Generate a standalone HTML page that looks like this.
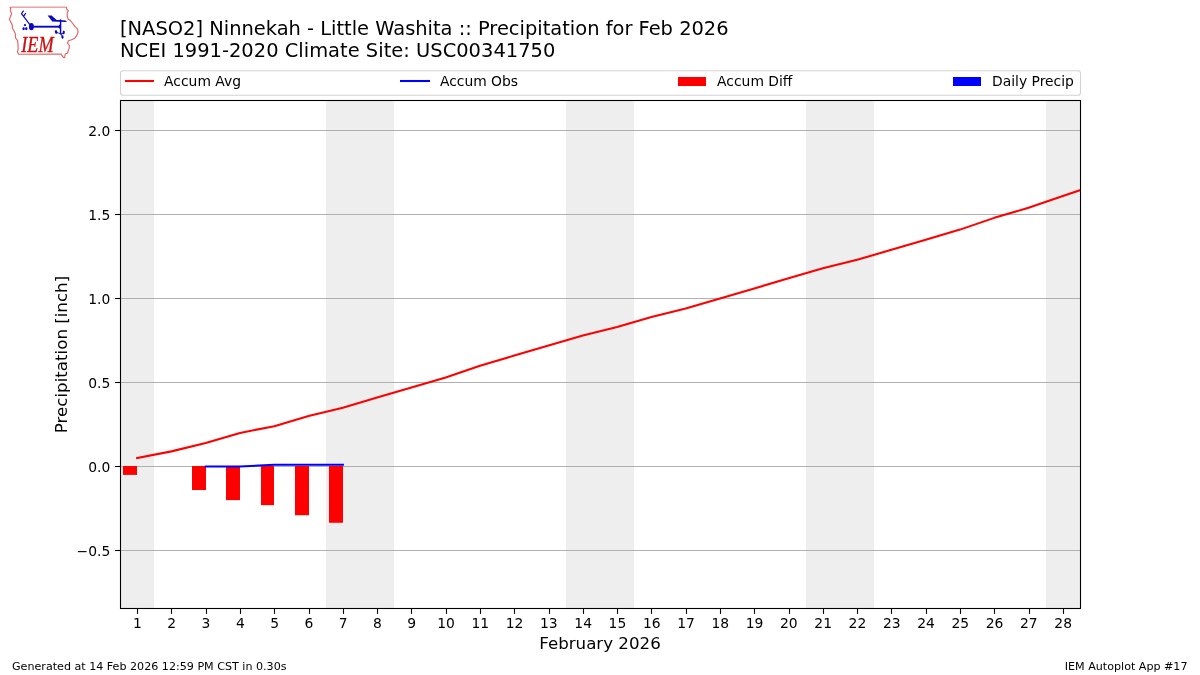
<!DOCTYPE html>
<html lang="en"><head><meta charset="utf-8"><title>IEM Autoplot App #17</title>
<style>html,body{margin:0;padding:0;background:#fff}body{width:1200px;height:675px;overflow:hidden}svg{display:block}text{font-family:'DejaVu Sans','Liberation Sans',sans-serif;fill:#000}</style></head><body>
<svg width="1200" height="675" viewBox="0 0 1200 675">
<rect width="1200" height="675" fill="#fff"/>
<g id="logo">
<path d="M10.1,7.4 L66.5,7.4 L66.7,9.2 L68.4,10.6 L67.2,13 L67.2,16.3 L68.2,19.2 L70.5,20.6 L72.4,23 L74.8,26.3 L77.6,29.1 L78.1,32.3 L76.7,35.6 L74.8,38.2 L71.5,39.8 L68.4,40.8 L67.5,43.2 L69.4,45.5 L69.1,48.4 L68.2,50.7 L67.5,53.1 L65.3,54.1 L64.6,57.6 L63.4,57.4 L61.1,54.1 L18.7,54.2 L17.5,51.7 L18.2,48.9 L18,44.6 L17.5,40.3 L15.6,38 L15.3,33.7 L14.2,31.3 L12.3,28 L12.3,25.3 L10.8,22 L9.4,19.2 L10.6,16.3 L11.6,13.5 L10.4,11.1 L10.8,9.2 Z" fill="#fff" stroke="#dc5050" stroke-opacity="0.88" stroke-width="1.15" stroke-linejoin="round"/>
<line x1="10.9" y1="7.3" x2="66" y2="7.3" stroke="#efa5a5" stroke-width="1.3"/>
<g fill="#0808c8" stroke="none">
<ellipse cx="31.4" cy="26.7" rx="2.45" ry="3.6"/>
<rect x="31.4" y="25.75" width="29.2" height="1.9"/>
<rect x="59.9" y="19.4" width="1.4" height="15"/>
<polygon points="57.8,26.7 60,24.3 60,29.1"/>
<polygon points="52.1,20.1 59.5,20 65.6,20.6 67,21.5 65.4,21.9 52.1,21.6"/>
<polygon points="47.6,15.6 51.6,15.4 56.6,19.9 52.1,21.3"/>
<circle cx="25" cy="25.1" r="1.12"/><ellipse cx="23.6" cy="28.7" rx="1.2" ry="1.45"/><ellipse cx="26.3" cy="28.7" rx="1.2" ry="1.45"/>
<ellipse cx="56.1" cy="32" rx="1.25" ry="1.9" transform="rotate(-15 56.1 32)"/><ellipse cx="63.7" cy="32.5" rx="1.05" ry="1.9" transform="rotate(10 63.7 32.5)"/><ellipse cx="62.5" cy="37" rx="1.1" ry="1.7" transform="rotate(-10 62.5 37)"/>
</g>
<g stroke="#0808c8" fill="none" stroke-width="1.15">
<path d="M31.4,26.7 L21.5,13.7 L23.6,10.6 M23.6,16.4 L25.8,13.2"/>
<path d="M56.1,32.2 Q58.5,33 60.6,33.8 Q62,34.2 63.4,33.2 M60.6,33 L62.4,36.6" stroke-width="0.9"/>
</g>
<text x="21.3" y="51.7" font-size="22.4" textLength="32.4" lengthAdjust="spacingAndGlyphs" style="font-family:'Liberation Serif','DejaVu Serif',serif;font-style:italic;fill:#cc1010;stroke:#cc1010;stroke-width:0.35px">IEM</text>
</g>

<text x="120" y="35" font-size="19.44">[NASO2] Ninnekah - Little Washita :: Precipitation for Feb 2026</text>
<text x="120" y="57" font-size="19.44" letter-spacing="0.02">NCEI 1991-2020 Climate Site: USC00341750</text>
<defs><clipPath id="ax"><rect x="120.50" y="100.50" width="960.00" height="508.00"/></clipPath></defs>
<g clip-path="url(#ax)">
<rect x="120.00" y="100.50" width="34.00" height="508.00" fill="#eeeeee"/>
<rect x="326.00" y="100.50" width="68.00" height="508.00" fill="#eeeeee"/>
<rect x="566.00" y="100.50" width="68.00" height="508.00" fill="#eeeeee"/>
<rect x="806.00" y="100.50" width="68.00" height="508.00" fill="#eeeeee"/>
<rect x="1046.00" y="100.50" width="34.00" height="508.00" fill="#eeeeee"/>
<line x1="120.5" x2="1080.5" y1="130.5" y2="130.5" stroke="#b0b0b0" stroke-width="1.1"/>
<line x1="120.5" x2="1080.5" y1="214.5" y2="214.5" stroke="#b0b0b0" stroke-width="1.1"/>
<line x1="120.5" x2="1080.5" y1="298.5" y2="298.5" stroke="#b0b0b0" stroke-width="1.1"/>
<line x1="120.5" x2="1080.5" y1="382.5" y2="382.5" stroke="#b0b0b0" stroke-width="1.1"/>
<line x1="120.5" x2="1080.5" y1="466.5" y2="466.5" stroke="#b0b0b0" stroke-width="1.1"/>
<line x1="120.5" x2="1080.5" y1="550.5" y2="550.5" stroke="#b0b0b0" stroke-width="1.1"/>
<rect x="123.00" y="466.00" width="14.00" height="8.90" fill="#ff0000"/>
<rect x="192.00" y="466.00" width="14.00" height="24.02" fill="#ff0000"/>
<rect x="226.00" y="466.00" width="14.00" height="34.10" fill="#ff0000"/>
<rect x="261.00" y="466.00" width="13.00" height="39.14" fill="#ff0000"/>
<rect x="295.00" y="466.00" width="14.00" height="49.22" fill="#ff0000"/>
<rect x="329.00" y="466.00" width="14.00" height="56.78" fill="#ff0000"/>
<polyline points="137.14,458.10 171.43,451.38 205.71,442.98 240.00,432.90 274.29,426.18 308.57,416.10 342.86,407.70 377.14,397.62 411.43,387.54 445.71,377.46 480.00,365.70 514.29,355.62 548.57,345.54 582.86,335.46 617.14,327.06 651.43,316.98 685.71,308.58 720.00,298.50 754.29,288.42 788.57,278.34 822.86,268.26 857.14,259.86 891.43,249.78 925.71,239.70 960.00,229.62 994.29,217.86 1028.57,207.78 1062.86,196.02 1097.14,184.26" fill="none" stroke="#ff0000" stroke-width="2.08" stroke-linejoin="round" stroke-linecap="square"/>
<polyline points="205.71,466.50 240.00,466.50 274.29,464.82 308.57,464.82 342.86,464.82" fill="none" stroke="#0000ff" stroke-width="2.08" stroke-linejoin="round" stroke-linecap="square"/>
</g>
<rect x="120.5" y="100.5" width="960.0" height="508.0" fill="none" stroke="#000" stroke-width="1.1"/>
<line x1="137.5" x2="137.5" y1="608.5" y2="613.9" stroke="#000" stroke-width="1.1"/>
<text x="137.44" y="628.3" font-size="13.89" text-anchor="middle">1</text>
<line x1="171.5" x2="171.5" y1="608.5" y2="613.9" stroke="#000" stroke-width="1.1"/>
<text x="171.73" y="628.3" font-size="13.89" text-anchor="middle">2</text>
<line x1="206.5" x2="206.5" y1="608.5" y2="613.9" stroke="#000" stroke-width="1.1"/>
<text x="206.01" y="628.3" font-size="13.89" text-anchor="middle">3</text>
<line x1="240.5" x2="240.5" y1="608.5" y2="613.9" stroke="#000" stroke-width="1.1"/>
<text x="240.30" y="628.3" font-size="13.89" text-anchor="middle">4</text>
<line x1="274.5" x2="274.5" y1="608.5" y2="613.9" stroke="#000" stroke-width="1.1"/>
<text x="274.59" y="628.3" font-size="13.89" text-anchor="middle">5</text>
<line x1="309.5" x2="309.5" y1="608.5" y2="613.9" stroke="#000" stroke-width="1.1"/>
<text x="308.87" y="628.3" font-size="13.89" text-anchor="middle">6</text>
<line x1="343.5" x2="343.5" y1="608.5" y2="613.9" stroke="#000" stroke-width="1.1"/>
<text x="343.16" y="628.3" font-size="13.89" text-anchor="middle">7</text>
<line x1="377.5" x2="377.5" y1="608.5" y2="613.9" stroke="#000" stroke-width="1.1"/>
<text x="377.44" y="628.3" font-size="13.89" text-anchor="middle">8</text>
<line x1="411.5" x2="411.5" y1="608.5" y2="613.9" stroke="#000" stroke-width="1.1"/>
<text x="411.73" y="628.3" font-size="13.89" text-anchor="middle">9</text>
<line x1="446.5" x2="446.5" y1="608.5" y2="613.9" stroke="#000" stroke-width="1.1"/>
<text x="446.01" y="628.3" font-size="13.89" text-anchor="middle">10</text>
<line x1="480.5" x2="480.5" y1="608.5" y2="613.9" stroke="#000" stroke-width="1.1"/>
<text x="480.30" y="628.3" font-size="13.89" text-anchor="middle">11</text>
<line x1="514.5" x2="514.5" y1="608.5" y2="613.9" stroke="#000" stroke-width="1.1"/>
<text x="514.59" y="628.3" font-size="13.89" text-anchor="middle">12</text>
<line x1="549.5" x2="549.5" y1="608.5" y2="613.9" stroke="#000" stroke-width="1.1"/>
<text x="548.87" y="628.3" font-size="13.89" text-anchor="middle">13</text>
<line x1="583.5" x2="583.5" y1="608.5" y2="613.9" stroke="#000" stroke-width="1.1"/>
<text x="583.16" y="628.3" font-size="13.89" text-anchor="middle">14</text>
<line x1="617.5" x2="617.5" y1="608.5" y2="613.9" stroke="#000" stroke-width="1.1"/>
<text x="617.44" y="628.3" font-size="13.89" text-anchor="middle">15</text>
<line x1="651.5" x2="651.5" y1="608.5" y2="613.9" stroke="#000" stroke-width="1.1"/>
<text x="651.73" y="628.3" font-size="13.89" text-anchor="middle">16</text>
<line x1="686.5" x2="686.5" y1="608.5" y2="613.9" stroke="#000" stroke-width="1.1"/>
<text x="686.01" y="628.3" font-size="13.89" text-anchor="middle">17</text>
<line x1="720.5" x2="720.5" y1="608.5" y2="613.9" stroke="#000" stroke-width="1.1"/>
<text x="720.30" y="628.3" font-size="13.89" text-anchor="middle">18</text>
<line x1="754.5" x2="754.5" y1="608.5" y2="613.9" stroke="#000" stroke-width="1.1"/>
<text x="754.59" y="628.3" font-size="13.89" text-anchor="middle">19</text>
<line x1="789.5" x2="789.5" y1="608.5" y2="613.9" stroke="#000" stroke-width="1.1"/>
<text x="788.87" y="628.3" font-size="13.89" text-anchor="middle">20</text>
<line x1="823.5" x2="823.5" y1="608.5" y2="613.9" stroke="#000" stroke-width="1.1"/>
<text x="823.16" y="628.3" font-size="13.89" text-anchor="middle">21</text>
<line x1="857.5" x2="857.5" y1="608.5" y2="613.9" stroke="#000" stroke-width="1.1"/>
<text x="857.44" y="628.3" font-size="13.89" text-anchor="middle">22</text>
<line x1="891.5" x2="891.5" y1="608.5" y2="613.9" stroke="#000" stroke-width="1.1"/>
<text x="891.73" y="628.3" font-size="13.89" text-anchor="middle">23</text>
<line x1="926.5" x2="926.5" y1="608.5" y2="613.9" stroke="#000" stroke-width="1.1"/>
<text x="926.01" y="628.3" font-size="13.89" text-anchor="middle">24</text>
<line x1="960.5" x2="960.5" y1="608.5" y2="613.9" stroke="#000" stroke-width="1.1"/>
<text x="960.30" y="628.3" font-size="13.89" text-anchor="middle">25</text>
<line x1="994.5" x2="994.5" y1="608.5" y2="613.9" stroke="#000" stroke-width="1.1"/>
<text x="994.59" y="628.3" font-size="13.89" text-anchor="middle">26</text>
<line x1="1029.5" x2="1029.5" y1="608.5" y2="613.9" stroke="#000" stroke-width="1.1"/>
<text x="1028.87" y="628.3" font-size="13.89" text-anchor="middle">27</text>
<line x1="1063.5" x2="1063.5" y1="608.5" y2="613.9" stroke="#000" stroke-width="1.1"/>
<text x="1063.16" y="628.3" font-size="13.89" text-anchor="middle">28</text>
<line x1="115.1" x2="120.5" y1="130.5" y2="130.5" stroke="#000" stroke-width="1.1"/>
<text x="110.3" y="135.8" font-size="13.89" text-anchor="end">2.0</text>
<line x1="115.1" x2="120.5" y1="214.5" y2="214.5" stroke="#000" stroke-width="1.1"/>
<text x="110.3" y="219.8" font-size="13.89" text-anchor="end">1.5</text>
<line x1="115.1" x2="120.5" y1="298.5" y2="298.5" stroke="#000" stroke-width="1.1"/>
<text x="110.3" y="303.8" font-size="13.89" text-anchor="end">1.0</text>
<line x1="115.1" x2="120.5" y1="382.5" y2="382.5" stroke="#000" stroke-width="1.1"/>
<text x="110.3" y="387.8" font-size="13.89" text-anchor="end">0.5</text>
<line x1="115.1" x2="120.5" y1="466.5" y2="466.5" stroke="#000" stroke-width="1.1"/>
<text x="110.3" y="471.8" font-size="13.89" text-anchor="end">0.0</text>
<line x1="115.1" x2="120.5" y1="550.5" y2="550.5" stroke="#000" stroke-width="1.1"/>
<text x="110.3" y="555.8" font-size="13.89" text-anchor="end">−0.5</text>
<text x="600" y="649" font-size="16.67" text-anchor="middle">February 2026</text>
<text transform="translate(67,354.5) rotate(-90)" font-size="16.67" text-anchor="middle">Precipitation [inch]</text>
<rect x="120.5" y="70.8" width="960" height="24.4" rx="2.8" ry="2.8" fill="#fff" fill-opacity="0.8" stroke="#d2d2d2" stroke-width="1.1"/>
<line x1="125" x2="154" y1="81" y2="81" stroke="#ff0000" stroke-width="2.08"/>
<text x="164.1" y="85.8" font-size="13.89">Accum Avg</text>
<line x1="400" x2="430" y1="81" y2="81" stroke="#0000ff" stroke-width="2.08"/>
<text x="439.9" y="85.8" font-size="13.89">Accum Obs</text>
<rect x="678" y="77" width="28" height="9" fill="#ff0000"/>
<text x="717.1" y="85.8" font-size="13.89">Accum Diff</text>
<rect x="953" y="77" width="28" height="9" fill="#0000ff"/>
<text x="992" y="85.8" font-size="13.89">Daily Precip</text>
<text x="12" y="669.7" font-size="11.11">Generated at 14 Feb 2026 12:59 PM CST in 0.30s</text>
<text x="1187.5" y="669.7" font-size="11.11" text-anchor="end">IEM Autoplot App #17</text>
</svg></body></html>
